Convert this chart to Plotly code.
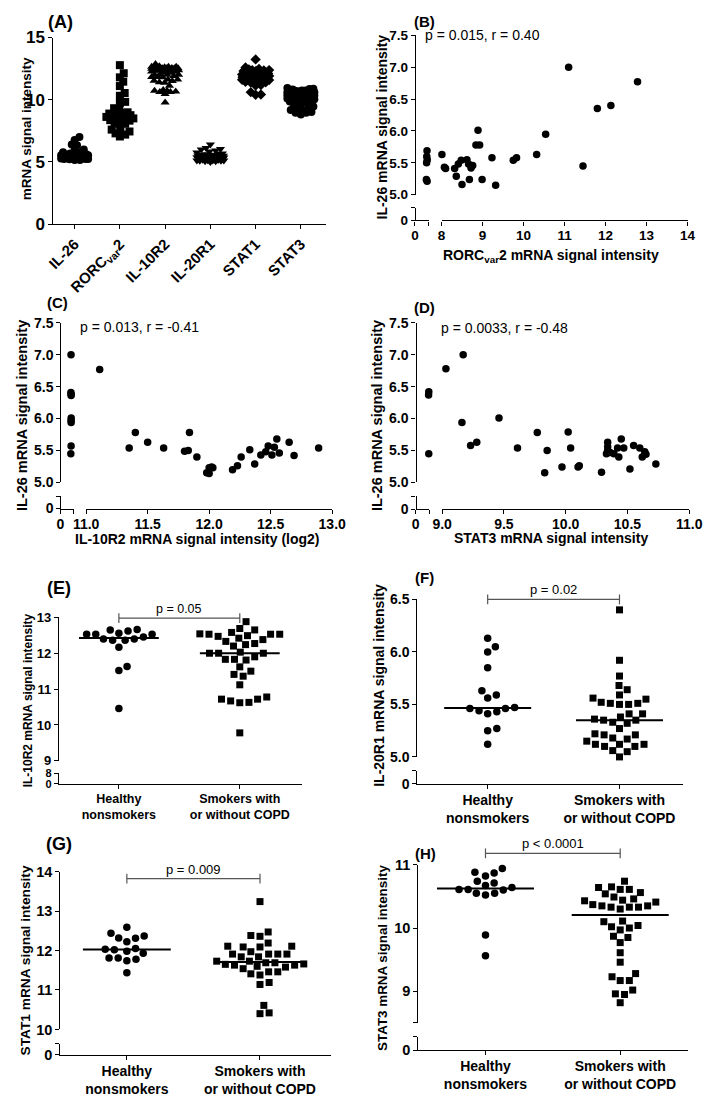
import numpy as np
import plotly.graph_objects as go

W, H = 716, 1105
FONT = "Liberation Sans, Arial, Helvetica, sans-serif"
LW = 1.4
GRAY = "#555555"

# ---------------- data ----------------
A_labels = ["IL-26", "RORC<sub>var</sub>2", "IL-10R2", "IL-20R1", "STAT1", "STAT3"]

# (B) IL-26 vs RORCvar2 (first group sits on the short left axis segment)
B_rorc_low = [7.45, 7.30, 7.60, 7.20, 7.05, 7.50]
B_il26_low = [5.69, 5.60, 5.55, 5.50, 5.24, 5.21]
B_rorc = [8.01, 8.07, 8.10, 8.32, 8.36, 8.41, 8.48, 8.50, 8.62, 8.66, 8.68, 8.72, 8.76, 8.84,
          8.93, 8.89, 8.99, 9.23, 9.32, 9.75, 9.83, 10.32, 10.54, 11.10, 11.45, 11.80, 12.13, 12.78]
B_il26 = [5.63, 5.43, 5.41, 5.41, 5.29, 5.48, 5.54, 5.16, 5.55, 5.48, 5.24, 5.42, 5.46, 5.78,
          5.78, 6.01, 5.24, 5.58, 5.15, 5.54, 5.58, 5.63, 5.95, 7.00, 5.45, 6.35, 6.40, 6.77]

# (C) IL-26 vs IL-10R2
C_il10r2_low = [10.62, 10.47, 10.72, 10.68, 10.78, 10.63, 10.73, 10.67, 10.40]
C_il26_low = [7.00, 6.41, 6.38, 6.36, 6.01, 5.97, 5.94, 5.57, 5.45]
C_il10r2 = [11.11, 11.35, 11.40, 11.50, 11.63, 11.80, 11.83, 11.84, 11.90, 11.98, 12.00, 12.00,
            12.02, 12.03, 12.19, 12.23, 12.26, 12.33, 12.37, 12.42, 12.46, 12.48, 12.51, 12.53,
            12.55, 12.57, 12.65, 12.69, 12.89]
C_il26 = [6.77, 5.54, 5.78, 5.63, 5.54, 5.49, 5.50, 5.78, 5.40, 5.15, 5.23, 5.14, 5.24, 5.23,
          5.20, 5.26, 5.40, 5.51, 5.29, 5.43, 5.48, 5.57, 5.43, 5.55, 5.68, 5.46, 5.63, 5.42, 5.54]

# (D) IL-26 vs STAT3
D_stat3_low = [8.95, 8.82, 8.93]
D_il26_low = [6.42, 6.37, 5.45]
D_stat3 = [9.03, 9.17, 9.16, 9.23, 9.28, 9.46, 9.61, 9.77, 9.83, 9.85, 9.97, 10.02, 10.04, 10.10,
           10.11, 10.29, 10.33, 10.34, 10.34, 10.34, 10.36, 10.39, 10.42, 10.43, 10.45, 10.47,
           10.52, 10.55, 10.60, 10.62, 10.64, 10.65, 10.73]
D_il26 = [6.78, 7.00, 5.94, 5.58, 5.63, 6.01, 5.54, 5.78, 5.15, 5.50, 5.24, 5.79, 5.54, 5.24,
          5.26, 5.16, 5.45, 5.50, 5.63, 5.56, 5.47, 5.45, 5.54, 5.40, 5.68, 5.54, 5.21, 5.58,
          5.54, 5.40, 5.48, 5.44, 5.29]

group_labels = ["Healthy<br>nonsmokers", "Smokers with<br>or without COPD"]

# (E) IL-10R2
E_healthy = [12.65, 12.56, 12.53, 12.53, 12.53, 12.62, 12.66, 12.40, 12.36, 12.36, 12.40, 12.45,
             12.17, 11.63, 11.52, 10.46]
E_smokers = [12.88, 12.65, 12.54, 12.53, 12.49, 12.53, 12.53, 12.58, 12.69, 12.42, 12.33, 12.24,
             12.20, 12.27, 12.38, 12.47, 12.00, 12.00, 11.83, 11.81, 11.83, 11.90, 12.00, 12.03,
             11.50, 11.41, 11.36, 11.62, 11.12, 10.78, 10.72, 10.63, 10.62, 10.67, 10.72, 9.78]
# (F) IL-20R1
F_healthy = [6.13, 6.05, 6.00, 5.85, 5.63, 5.59, 5.56, 5.46, 5.44, 5.41, 5.43, 5.46, 5.47, 5.27,
             5.25, 5.12]
F_smokers = [6.40, 5.92, 5.77, 5.68, 5.64, 5.52, 5.51, 5.56, 5.50, 5.50, 5.51, 5.55, 5.59, 5.41,
             5.36, 5.33, 5.35, 5.32, 5.35, 5.41, 5.22, 5.21, 5.17, 5.12, 5.12, 5.10, 5.06, 5.00,
             5.05, 5.12, 5.10, 5.15, 5.18, 5.21, 5.38, 5.27]
# (G) STAT1
G_healthy = [12.03, 11.98, 12.31, 12.44, 12.05, 12.37, 12.22, 12.59, 12.32, 11.81, 11.78, 11.74,
             11.81, 11.93, 12.02, 11.44]
G_smokers = [13.24, 12.47, 12.38, 12.36, 12.19, 12.11, 12.09, 12.09, 12.11, 11.91, 11.91, 11.84,
             11.84, 11.91, 11.91, 11.97, 11.69, 11.65, 11.63, 11.58, 11.73, 11.73, 11.46, 11.41,
             11.46, 11.38, 11.54, 11.60, 11.63, 11.66, 11.69, 11.19, 11.14, 10.61, 10.40, 10.42]
# (H) STAT3
H_healthy = [10.64, 10.60, 10.87, 10.55, 10.74, 10.52, 10.71, 10.94, 10.55, 10.82, 10.61, 10.88,
             10.61, 10.67, 9.89, 9.56]
H_smokers = [10.74, 10.64, 10.61, 10.54, 10.49, 10.56, 10.61, 10.65, 10.44, 10.41, 10.35, 10.33,
             10.33, 10.30, 10.33, 10.35, 10.37, 10.43, 10.46, 10.10, 10.02, 9.97, 10.04, 10.11,
             9.87, 9.77, 9.85, 9.61, 9.46, 9.23, 9.28, 9.17, 9.17, 8.96, 9.02, 8.95, 8.82, 10.00]

# panel A columns are the pooled values of the other panels
A_values = [B_il26_low + B_il26, B_rorc_low + B_rorc, E_healthy + E_smokers,
            F_healthy + F_smokers, G_healthy + G_smokers, H_healthy + H_smokers]
A_symbols = ["circle", "square", "triangle-up", "triangle-down", "diamond", "circle"]

# ---------------- helpers ----------------
traces, annotations = [], []
layout_axes = {}
counter = {"x": 0, "y": 0}


def px_x(p):
    return p / W


def px_y(p):
    return 1 - p / H


def tfont(size, bold=True):
    d = dict(family=FONT, size=size, color="black")
    if bold:
        d["weight"] = "bold"
    return d


def new_axis(kind, **kw):
    counter[kind] += 1
    n = counter[kind]
    key = f"{kind}axis" + ("" if n == 1 else str(n))
    base = dict(showline=True, linecolor="black", linewidth=LW, ticks="outside", ticklen=4,
                tickwidth=LW, tickcolor="black", showgrid=False, zeroline=False,
                fixedrange=True, anchor="free", tickmode="array")
    base.update(kw)
    layout_axes[key] = base
    return kind + ("" if n == 1 else str(n))


def xaxis(x0, x1, ypos, rng, vals, text=None, size=13, angle=None, standoff=-2):
    kw = dict(domain=[px_x(x0), px_x(x1)], position=px_y(ypos), range=rng, tickvals=vals,
              tickfont=tfont(size), side="bottom", ticklabelstandoff=standoff)
    if text is not None:
        kw["ticktext"] = text
    if angle is not None:
        kw["tickangle"] = angle
    return new_axis("x", **kw)


def yaxis(ytop, ybot, xpos, rng, vals, text=None, size=13):
    kw = dict(domain=[px_y(ybot), px_y(ytop)], position=px_x(xpos), range=rng, tickvals=vals,
              tickfont=tfont(size), side="left")
    if text is not None:
        kw["ticktext"] = text
    return new_axis("y", **kw)


def cap_ticks(kind, base, rng, vals, pos, other):
    """Overlay axis that adds the inner half of the break-end cap ticks."""
    ov = new_axis(kind, overlaying=base, range=rng, tickvals=vals, ticks="inside",
                  showline=False, showticklabels=False, position=pos,
                  side="bottom" if kind == "x" else "left")
    if kind == "x":
        empty(ov, other)
    else:
        empty(other, ov)


def markers(x, y, xa, ya, symbol="circle", size=7):
    traces.append(go.Scatter(x=x, y=y, xaxis=xa, yaxis=ya, mode="markers",
                             marker=dict(symbol=symbol, size=size, color="black",
                                         line=dict(width=0)),
                             cliponaxis=False, showlegend=False, hoverinfo="skip"))


def empty(xa, ya):
    traces.append(go.Scatter(x=[None], y=[None], xaxis=xa, yaxis=ya, mode="markers",
                             showlegend=False, hoverinfo="skip"))


def hline(x0, x1, yv, xa, ya, width=2.0, color="black"):
    traces.append(go.Scatter(x=[x0, x1], y=[yv, yv], xaxis=xa, yaxis=ya, mode="lines",
                             line=dict(color=color, width=width), cliponaxis=False,
                             showlegend=False, hoverinfo="skip"))


def label(text, x, y, size, bold=True, angle=0, xanchor="center"):
    annotations.append(dict(text=text, x=px_x(x), y=px_y(y), xref="paper", yref="paper",
                            showarrow=False, xanchor=xanchor, yanchor="middle",
                            textangle=angle, font=tfont(size, bold)))


def swarm(vals, ypx, dist, maxoff, step=0.5):
    """Deterministic beeswarm offsets (pixels) from the values."""
    vals = np.asarray(vals, float)
    order = np.argsort(vals, kind="stable")
    cands = [0.0]
    k = 1
    while k * step <= maxoff:
        cands += [k * step, -k * step]
        k += 1
    placed = []
    off = np.zeros(len(vals))
    for i in order:
        yy = vals[i] * ypx
        best, bestc, bestd = None, 0.0, -1
        for c in cands:
            md = min([np.hypot(c - px, yy - py) for px, py in placed], default=1e9)
            if md >= dist:
                best = c
                break
            if md > bestd:
                bestd, bestc = md, c
        off[i] = best if best is not None else bestc
        placed.append((off[i], yy))
    return off


# ---------------- panel A ----------------
xa = xaxis(41, 325, 219, [-0.49, 5.55], list(range(6)), A_labels, size=15, angle=-45,
           standoff=0)
ya = yaxis(29, 219, 41, [0, 15], [0, 5, 10, 15], ["0", "5", "10", "15"], size=17)
A_ypx, A_xpx = 190 / 15, 47.0
for i, vals in enumerate(A_values):
    off = swarm(vals, A_ypx, 5.5, 14)
    markers(list(i + off / A_xpx), vals, xa, ya, A_symbols[i], 8)
    hline(i - 0.33, i + 0.33, float(np.median(vals)), xa, ya, 1.6)
label("(A)", 49, 13.5, 18)
label("mRNA signal intensity", 14, 122, 13.5, angle=-90)


# ---------------- panels B, C, D (broken axes) ----------------
def corr_panel(yx, ytop, y5, ycap, y0, xl0, xl1, lrng, xr0, xr1, rrng, rticks, rtext,
               xlow, ylow, xs, ys, tsize, msize):
    yup = yaxis(ytop, y5, yx, [5, 7.5], [5, 5.5, 6, 6.5, 7, 7.5],
                ["5.0", "5.5", "6.0", "6.5", "7.0", "7.5"], size=tsize)
    ylo = yaxis(ycap, y0, yx, [0, 1], [0, 1], ["0", ""], size=tsize)
    xl = xaxis(xl0, xl1, y0, lrng, [0, lrng[1]], ["0", ""], size=tsize)
    xr = xaxis(xr0, xr1, y0, rrng, rticks, rtext, size=tsize)
    markers(xlow, ylow, xl, yup, "circle", msize)
    markers(xs, ys, xr, yup, "circle", msize)
    empty(xl, ylo)
    empty(xr, ylo)
    cap_ticks("y", ylo, [0, 1], [1], px_x(yx), xl)
    cap_ticks("x", xl, lrng, [lrng[1]], px_y(y0), ylo)
    cap_ticks("x", xr, rrng, [rrng[0]], px_y(y0), ylo)


corr_panel(417.7, 26.7, 189, 202.3, 215, 417.7, 432, [0, 8.5], 445.3, 701, [8, 14],
           [8, 9, 10, 11, 12, 13, 14], [str(v) for v in range(8, 15)],
           B_rorc_low, B_il26_low, B_rorc, B_il26, 13.5, 7.5)
label("(B)", 428, 12.5, 15)
label("p = 0.015, r = 0.40", 426, 26.5, 14, bold=False, xanchor="left")
label("IL-26 mRNA signal intensity", 383, 120, 14, angle=-90)
label("RORC<sub>var</sub>2 mRNA signal intensity", 559, 251.5, 14)

corr_panel(49.3, 319.3, 481.7, 496, 508.3, 49.3, 63.3, [0, 13.5], 76, 331.7, [11, 13],
           [11, 11.5, 12, 12.5, 13], ["11.0", "11.5", "12.0", "12.5", "13.0"],
           C_il10r2_low, C_il26_low, C_il10r2, C_il26, 14, 7.5)
label("(C)", 46, 299, 15)
label("p = 0.013, r = -0.41", 68, 323.5, 14, bold=False, xanchor="left")
label("IL-26 mRNA signal intensity", 10, 413.5, 14.5, angle=-90)
label("IL-10R2 mRNA signal intensity (log2)", 192, 539, 14)

corr_panel(418.3, 319.3, 481.7, 496, 509, 418.3, 432.7, [0, 9.35], 446, 702.7, [9, 11],
           [9, 9.5, 10, 10.5, 11], ["9.0", "9.5", "10.0", "10.5", "11.0"],
           D_stat3_low, D_il26_low, D_stat3, D_il26, 14, 7.5)
label("(D)", 428, 304, 15)
label("p = 0.0033, r = -0.48", 443, 324.5, 14, bold=False, xanchor="left")
label("IL-26 mRNA signal intensity", 379, 413.5, 14.5, angle=-90)
label("STAT3 mRNA signal intensity", 559, 538, 14)


# ---------------- panels E-H (group comparisons) ----------------
def group_panel(yx, xd0, xd1, xrng, y0, up_top, up_bot, up_rng, up_vals, up_text,
                cap_y, lo_rng, lo_vals, lo_text, healthy, smokers, bracket, ptext,
                tsize, csize, hw=0.33, psize=13, losize=None):
    xg = xaxis(xd0, xd1, y0, xrng, [0, 1], group_labels, size=csize, standoff=-1)
    yup = yaxis(up_top, up_bot, yx, up_rng, up_vals, up_text, size=tsize)
    ylo = yaxis(cap_y, y0, yx, lo_rng, lo_vals, lo_text, size=losize or tsize)
    empty(xg, ylo)
    cap_ticks("y", ylo, lo_rng, [lo_rng[1]], px_x(yx), xg)
    ypx = (up_bot - up_top) / (up_rng[1] - up_rng[0])
    xpx = (xd1 - xd0) / (xrng[1] - xrng[0])
    # hidden axis with the same scale but extra head-room for the significance bracket
    extra = 40
    ybr = new_axis("y", domain=[px_y(up_bot), px_y(up_top - extra)], position=px_x(yx),
                   range=[up_rng[0], up_rng[1] + extra / ypx], visible=False)
    empty(xg, ybr)
    for gi, (vals, sym, ms) in enumerate([(healthy, "circle", 7.5), (smokers, "square", 7)]):
        off = swarm(vals, ypx, 9.3, 80)
        markers(list(gi + off / xpx), vals, xg, yup, sym, ms)
        hline(gi - hw, gi + hw, float(np.median(vals)), xg, yup, 2.0)
    traces.append(go.Scatter(x=[0, 1], y=[bracket, bracket], xaxis=xg, yaxis=ybr,
                             mode="lines+markers", cliponaxis=False,
                             line=dict(color=GRAY, width=1.2),
                             marker=dict(symbol="line-ns", size=7, color=GRAY,
                                         line=dict(width=1.2, color=GRAY)),
                             showlegend=False, hoverinfo="skip"))
    annotations.append(dict(text=ptext, x=0.5, y=bracket, xref=xg, yref=ybr, showarrow=False,
                            xanchor="center", yanchor="bottom", yshift=0,
                            font=tfont(psize, False)))


group_panel(46.7, 46.7, 300, [-0.504, 1.512], 788.3, 619, 765, [9, 13],
            [9, 10, 11, 12, 13], ["9", "10", "11", "12", "13"], 777.7, [0, 8], [0, 8],
            ["0", "8"], E_healthy, E_smokers, 12.98, "p = 0.05", 13, 12.5, psize=12.5,
            losize=11)
label("(E)", 47.5, 589, 18)
label("IL-10R2 mRNA signal intensity", 15, 703, 12, angle=-90)

group_panel(419.3, 419.3, 696, [-0.540, 1.480], 788.3, 600.7, 761, [5, 6.5],
            [5, 5.5, 6, 6.5], ["5.0", "5.5", "6.0", "6.5"], 775, [0, 1], [0, 1], ["0", ""],
            F_healthy, F_smokers, 6.5, "p = 0.02", 14, 14)
label("(F)", 428, 578.3, 15)
label("IL-20R1 mRNA signal intensity", 381, 688, 14, angle=-90)

group_panel(48.3, 48.3, 330, [-0.506, 1.530], 1064, 877.7, 1038.3, [10, 14],
            [10, 11, 12, 13, 14], ["10", "11", "12", "13", "14"], 1052.7, [0, 1], [0, 1],
            ["0", ""], G_healthy, G_smokers, 13.82, "p = 0.009", 14.5, 14)
label("(G)", 48.3, 850, 18)
label("STAT1 mRNA signal intensity", 12.5, 968, 13.7, angle=-90)

group_panel(420.3, 420.3, 701, [-0.505, 1.5], 1059.3, 870.7, 1031.7, [8.5, 11],
            [8.5, 9, 10, 11], ["", "9", "10", "11"], 1045.7, [0, 1], [0, 1], ["0", ""],
            H_healthy, H_smokers, 11.18, "p < 0.0001", 14.5, 14, hw=0.36)
label("(H)", 428.5, 859, 15)
label("STAT3 mRNA signal intensity", 384, 966, 13.4, angle=-90)

# ---------------- figure ----------------
fig = go.Figure(traces)
fig.update_layout(width=W, height=H, autosize=False, margin=dict(l=0, r=0, t=0, b=0),
                  paper_bgcolor="white", plot_bgcolor="rgba(0,0,0,0)", showlegend=False,
                  font=dict(family=FONT, color="black"), annotations=annotations,
                  **layout_axes)
fig.write_html("out.html", include_plotlyjs=True, config={"displayModeBar": False},
               post_script="document.body.style.margin='0';document.body.style.padding='0';")
